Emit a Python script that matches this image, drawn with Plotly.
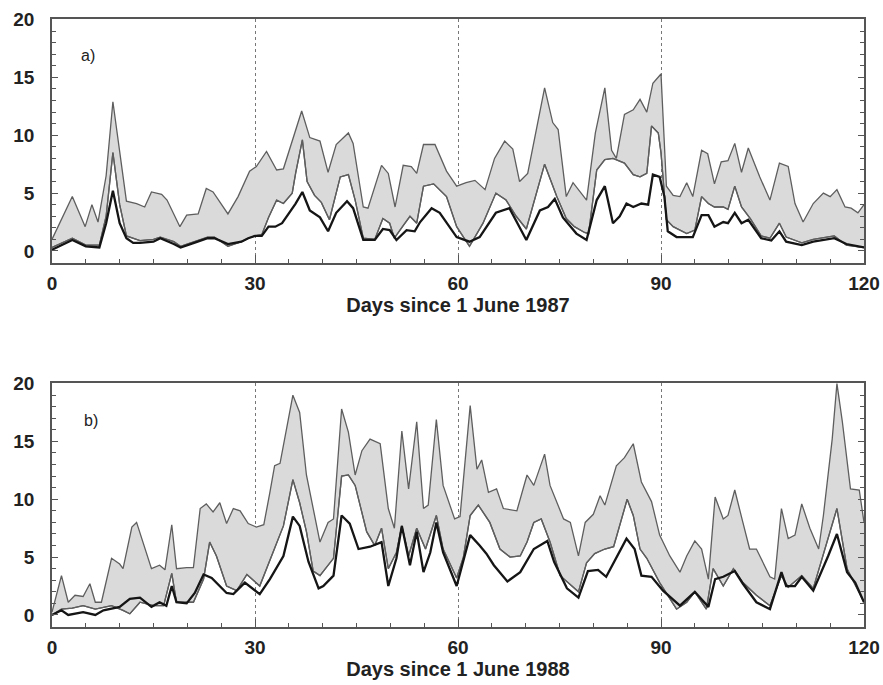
import plotly.graph_objects as go

# ---------------- Panel a (1987) ----------------
a_upper_day = [0, 3, 4.9, 5.9, 6.8, 8, 9, 11, 12.5, 13.7, 14.7, 16.2, 17, 18.9, 19.9, 21.6, 22.8, 23.8, 26, 27.5,
               29.2, 30.2, 31.7, 33.2, 34.2, 36.9, 38.1, 39.6, 40.8, 42, 43.8, 44.5, 46, 46.7, 48.7, 49.7, 50.7,
               51.9, 53.1, 53.9, 54.9, 56.6, 58.3, 59.8, 61.2, 62.5, 64, 65.4, 66.9, 68.1, 69.1, 70.3, 72.8, 74,
               74.8, 76, 77, 78, 79, 80.3, 81.7, 82.7, 83.4, 84.6, 85.9, 86.9, 87.9, 88.8, 90, 90.8, 91.8, 92.8,
               93.8, 94.7, 96, 96.9, 97.9, 98.9, 99.9, 100.9, 101.9, 102.9, 104.6, 106.1, 107.5, 108.8, 109.8,
               111, 112.5, 114, 115, 116, 117.2, 118.1, 119.1, 120]
a_upper_val = [1.0, 4.7, 2.1, 4.0, 2.5, 6.5, 12.9, 4.3, 4.1, 3.8, 5.1, 4.9, 4.4, 2.1, 3.1, 3.2, 5.4, 5.1, 3.2, 4.7,
               6.9, 7.3, 8.6, 7.0, 7.1, 12.1, 9.8, 9.5, 6.8, 9.2, 10.2, 9.3, 3.8, 3.7, 7.4, 6.7, 3.8,
               7.4, 7.3, 6.7, 9.2, 9.2, 6.9, 5.6, 5.9, 6.1, 5.3, 8.0, 9.5, 8.8, 6.0, 6.7, 14.1, 11.1,
               10.5, 4.7, 5.9, 5.2, 4.4, 10.2, 14.1, 8.7, 8.0, 11.8, 12.2, 13.1, 12.0, 14.5, 15.3, 5.6, 4.8, 4.7,
               5.9, 4.7, 8.7, 8.4, 5.8, 7.7, 7.8, 9.3, 6.8, 8.9, 6.4, 4.4, 7.6, 7.3, 4.1,
               2.5, 4.1, 5.0, 4.7, 5.3, 3.8, 3.7, 3.3, 4.0]

a_lower_day = [0, 3, 5, 7, 8, 9, 10, 11, 13, 15, 16, 18, 19, 21, 23, 24, 26, 28, 29, 30, 31, 32, 33.2, 34.2,
               35.5, 36, 37, 37.7, 38.8, 39.8, 41, 42.6, 43.8, 44.8, 46, 47.7, 48.9, 49.9, 50.6, 51.9, 52.9,
               53.9, 54.9, 56.4, 58.3, 59.8, 61.7, 63.7, 65.6, 67.1, 68.6, 70.1, 72.8, 74.6, 76, 77.2, 78.7,
               79.3, 80.5, 81.7, 82.9, 84.6, 85.9, 86.9, 87.9, 88.6, 89.6, 90, 90.8, 91.8, 93.8, 95, 96, 97,
               97.9, 99.2, 99.9, 100.9, 101.9, 103.2, 104.8, 106.1, 107.5, 108.5, 110.8, 112.5, 115.6, 117.4,
               119.8, 120]
a_lower_val = [0.3, 1.1, 0.5, 0.5, 3.0, 8.5, 4.0, 1.3, 0.9, 1.0, 1.2, 0.8, 0.4, 0.8, 1.2, 1.2, 0.4, 0.8, 1.1, 1.3,
               1.4, 2.9, 4.4, 4.1, 5.0, 6.7, 9.6, 6.0, 4.8, 4.2, 2.7, 6.4, 6.6, 4.4, 1.1, 1.0, 2.8, 2.4, 1.1,
               2.2, 3.0, 2.4, 5.6, 5.8, 4.7, 2.1, 0.4, 2.4, 5.0, 4.4, 3.0, 1.9, 7.5, 4.7, 2.8, 2.1, 1.6,
               1.5, 7.0, 7.9, 8.0, 7.6, 6.6, 6.4, 6.7, 10.8, 10.2, 8.5, 2.7, 2.1, 1.5, 1.8, 4.7, 4.1,
               3.8, 3.8, 3.6, 5.6, 3.8, 2.8, 1.3, 1.1, 2.4, 1.2, 0.7, 1.0, 1.3, 0.5,
               0.3, 0.3]

a_black_day = [0, 3, 5, 7, 8, 9, 10, 11, 12, 13, 15, 16, 18, 19, 21, 23, 24, 26, 28, 29, 30, 31, 32, 33, 34, 36,
               37, 38.1, 39.6, 40.8, 42, 43.6, 44.5, 46, 47.7, 48.9, 49.9, 50.9, 52.4, 53.6, 54.4, 56.1, 57.3,
               59.8, 61.7, 63.2, 65.6, 67.6, 70.1, 72.1, 73.3, 74.3, 75.5, 77.5, 79, 80.5, 81.7, 82.9, 83.9,
               84.9, 85.9, 87.1, 88.1, 88.8, 89.8, 90.5, 91, 92.3, 94.7, 96, 97, 97.9, 99.2, 99.9, 100.9, 101.9,
               102.9, 104.8, 106.3, 107.5, 108.5, 110.8, 112.5, 115.6, 117.4, 120]
a_black_val = [0.1, 0.95, 0.4, 0.3, 2.4, 5.2, 2.4, 1.1, 0.7, 0.7, 0.8, 1.1, 0.6, 0.3, 0.7, 1.1, 1.1, 0.6, 0.8, 1.1,
               1.3, 1.3, 2.1, 2.1, 2.4, 4.1, 5.1, 3.5, 2.9, 1.7, 3.3, 4.3, 3.7, 0.95, 0.95, 1.9, 1.8, 0.95, 1.8,
               1.7, 2.5, 3.7, 3.3, 1.2, 0.8, 1.2, 3.3, 3.7, 0.95, 3.5, 3.8, 4.5, 2.9, 1.5, 0.95, 4.4, 5.6, 2.4,
               3.0, 4.1, 3.8, 4.1, 4.0, 6.6, 6.4, 4.7, 1.7, 1.2, 1.2, 3.1, 3.1, 2.1, 2.5, 2.4, 3.3, 2.4,
               2.7, 1.1, 0.9, 1.7, 0.8, 0.5, 0.8, 1.1, 0.6, 0.3]

# ---------------- Panel b (1988) ----------------
b_upper_day = [0, 1.4, 2.4, 3.4, 4.6, 5.6, 6.4, 7.3, 8.8, 10, 10.5, 11.8, 12.5, 14.7, 15.9, 16.7, 17.7, 18.4,
               19.9, 20.9, 21.9, 22.8, 23.8, 24.8, 25.8, 26.8, 27.8, 29, 30.2, 31.3, 32.2, 32.9, 33.7, 35.6,
               36.6, 37.6, 39.6, 40.8, 41.6, 42.8, 43.8, 44.8, 45.8, 47, 48.5, 49.7, 50.6, 51.7, 52.7, 53.9,
               54.9, 55.6, 56.8, 57.8, 59.5, 60.3, 61.8, 62.8, 63.5, 64.5, 65.7, 66.7, 68.7, 70.2, 71.2, 72.8,
               73.6, 75.6, 76.6, 77.8, 78.8, 80, 81, 81.7, 83.4, 84.6, 85.9, 87.1, 88.6, 89.8, 91.3, 92.8,
               93.8, 95, 96, 97, 98, 99.2, 99.9, 100.9, 102.1, 103.1, 104.1, 106.1, 106.8, 107.8, 108.8,
               109.8, 110.8, 112, 113.3, 114, 115.3, 116, 116.8, 118, 119.3, 120]
b_upper_val = [0.25, 3.4, 1.1, 1.7, 1.6, 2.7, 1.1, 1.1, 4.9, 4.4, 4.0, 7.6, 8.0, 4.0, 4.3, 3.9, 7.8, 4.0,
               4.1, 4.1, 9.2, 9.6, 8.9, 9.7, 7.9, 9.2, 9.0, 7.9, 7.6, 7.8, 10.6, 12.9, 13.1, 19.0,
               17.5, 12.1, 6.3, 8.0, 8.3, 17.8, 15.8, 12.1, 14.2, 15.2, 14.8, 9.2, 7.5, 15.9, 10.9, 16.7,
               9.2, 9.5, 16.9, 11.2, 8.3, 8.5, 18.1, 12.6, 13.4, 10.6, 10.9, 9.2, 9.0, 12.1, 11.2, 13.9,
               11.2, 8.3, 8.0, 5.1, 8.0, 8.7, 10.3, 9.5, 12.9, 13.6, 14.8, 11.5, 9.8, 6.9, 5.1, 3.7,
               5.1, 6.4, 5.7, 3.1, 10.2, 8.3, 8.6, 10.8, 8.0, 5.7, 5.7, 3.3, 3.1, 9.2, 6.6,
               6.9, 9.6, 7.5, 5.7, 8.6, 15.2, 20.0, 16.7, 10.9, 10.8, 8.0]

b_lower_day = [0, 1.4, 3, 4.6, 6.4, 8.8, 10.5, 11.5, 13, 15, 16.5, 17.7, 18.4, 20.9, 22.4, 23.3, 24.3, 25.8,
               27.3, 28.8, 30.7, 32.2, 34.2, 35.6, 36.6, 37.6, 38.6, 39.6, 41.6, 42.8, 43.8, 44.8, 46.5, 47.7,
               48.7, 49.7, 50.9, 51.7, 52.7, 53.9, 55.2, 56.8, 57.8, 59.8, 60.8, 61.8, 63, 64.7, 66.2, 67.7,
               69.2, 70.2, 71.2, 72.3, 73.6, 75.1, 76.6, 77.8, 79, 80.2, 81.7, 83, 85, 85.9, 86.9, 87.9,
               89.8, 92.3, 93.8, 95, 96.7, 97.7, 99.2, 100.7, 102.1, 104.1, 106.1, 107.8, 108.8, 110.8,
               112.5, 114.5, 116, 117.5, 120]
b_lower_val = [0.0, 0.5, 0.6, 0.8, 0.5, 0.8, 0.4, 0.1, 1.1, 0.8, 0.8, 3.6, 1.1, 1.1, 3.1, 6.3, 5.1, 2.5,
               2.1, 3.5, 2.5, 4.8, 7.7, 11.7, 9.7, 7.2, 3.8, 3.4, 4.9, 12.0, 12.1, 11.2, 7.2, 6.0,
               7.5, 4.0, 5.4, 7.7, 5.1, 7.5, 5.7, 8.6, 5.7, 3.2, 5.0, 8.6, 9.5, 8.0, 5.7, 5.0,
               5.1, 6.3, 8.0, 8.3, 6.3, 3.4, 2.6, 2.0, 4.5, 5.3, 5.7, 5.9, 10.0, 8.6, 5.7, 4.9,
               2.8, 0.5, 1.1, 2.0, 0.5, 4.0, 2.5, 4.0, 2.8, 1.7, 0.8, 3.4, 2.4, 3.4,
               2.3, 6.3, 9.2, 4.0, 1.1]

b_black_day = [0, 1.4, 2.4, 4.6, 6.4, 7.6, 10, 11.5, 13, 14.7, 15.9, 16.9, 17.7, 18.4, 19.9, 21.1, 22.4, 23.6,
               25.8, 26.8, 28.5, 30.7, 32.2, 34.2, 35.6, 36.6, 37.9, 39.4, 40.1, 41.6, 42.8, 44, 45.3, 47,
               48.7, 49.7, 50.9, 51.7, 52.9, 53.9, 54.9, 55.9, 56.8, 57.8, 59.8, 61.8, 63.2, 64.2, 65.3, 66.3,
               67.3, 69.2, 71.2, 73.2, 74.2, 76.1, 77.8, 79.2, 80.7, 81.9, 84.9, 86.1, 87.1, 88.6, 90.3,
               92.8, 95, 97, 98, 99.2, 100.9, 102.1, 104.1, 106.1, 107.8, 108.5, 109.8, 110.8, 112.5, 114.7,
               116, 117.5, 118.7, 120]
b_black_val = [0.0, 0.4, 0.0, 0.25, 0.0, 0.4, 0.7, 1.4, 1.5, 0.7, 1.1, 0.8, 2.5, 1.1, 1.0, 1.9, 3.5, 3.2,
               1.9, 1.8, 2.8, 1.8, 3.1, 5.1, 8.5, 7.7, 4.6, 2.3, 2.5, 3.4, 8.6, 7.9, 5.7, 5.9,
               6.3, 2.5, 4.9, 7.7, 4.3, 7.2, 3.7, 5.4, 8.0, 5.4, 2.5, 6.9, 6.0, 5.3, 4.3, 3.6,
               2.9, 3.7, 5.7, 6.4, 4.6, 2.3, 1.5, 3.8, 3.9, 3.3, 6.6, 5.7, 3.4, 3.3, 2.1,
               0.8, 2.0, 0.7, 3.1, 3.3, 3.8, 2.7, 1.1, 0.5, 3.7, 2.5, 2.5, 3.3, 2.1, 5.1,
               7.0, 3.7, 2.8, 1.1]

x_ticks = [0, 30, 60, 90, 120]
y_ticks = [0, 5, 10, 15, 20]
x_titles = ["Days since 1 June 1987", "Days since 1 June 1988"]
panel_labels = ["a)", "b)"]

GREY_LINE = "#5e5e5e"
FILL = "#dadada"
BLACK = "#151515"
FRAME = "#555555"
FONT = "Liberation Sans, Arial, sans-serif"

fig = go.Figure()

panels = [
    (a_upper_day, a_upper_val, a_lower_day, a_lower_val, a_black_day, a_black_val, "x", "y"),
    (b_upper_day, b_upper_val, b_lower_day, b_lower_val, b_black_day, b_black_val, "x2", "y2"),
]
for (ud, uv, ld, lv, bd, bv, xa, ya) in panels:
    fig.add_trace(go.Scatter(x=ld, y=lv, mode="lines", line=dict(color=GREY_LINE, width=1.3),
                             xaxis=xa, yaxis=ya, showlegend=False, hoverinfo="skip"))
    fig.add_trace(go.Scatter(x=ud, y=uv, mode="lines", line=dict(color=GREY_LINE, width=1.3),
                             fill="tonexty", fillcolor=FILL,
                             xaxis=xa, yaxis=ya, showlegend=False, hoverinfo="skip"))
    fig.add_trace(go.Scatter(x=ld, y=lv, mode="lines", line=dict(color=GREY_LINE, width=1.3),
                             xaxis=xa, yaxis=ya, showlegend=False, hoverinfo="skip"))
    fig.add_trace(go.Scatter(x=bd, y=bv, mode="lines", line=dict(color=BLACK, width=2.3),
                             xaxis=xa, yaxis=ya, showlegend=False, hoverinfo="skip"))

tickfont = dict(family=FONT, size=19, color="#222", weight="bold")
titlefont = dict(family=FONT, size=20, color="#222", weight="bold")

def xaxis_cfg(title, anchor):
    return dict(
        range=[0, 120], tickvals=x_ticks, ticktext=[str(v) for v in x_ticks],
        ticks="inside", ticklen=8, tickwidth=1, tickcolor=FRAME,
        minor=dict(dtick=5, tick0=0, ticks="inside", ticklen=4, tickcolor=FRAME, showgrid=False),
        showline=True, linecolor=FRAME, linewidth=1.5, mirror=True,
        showgrid=True, gridcolor="#777", griddash="dot", gridwidth=1,
        zeroline=False, tickfont=tickfont, ticklabelstandoff=2, ticklabeloverflow="allow",
        title=dict(text=title, font=titlefont, standoff=5),
        anchor=anchor, automargin=False,
    )

def yaxis_cfg(domain, anchor):
    return dict(
        range=[-1.04, 20.05], domain=domain, tickvals=y_ticks, ticktext=[str(v) for v in y_ticks],
        ticks="inside", ticklen=6, tickwidth=1, tickcolor=FRAME,
        minor=dict(dtick=1, tick0=0, ticks="inside", ticklen=4, tickcolor=FRAME, showgrid=False),
        showline=True, linecolor=FRAME, linewidth=1.5, mirror="allticks",
        showgrid=False, zeroline=False, tickfont=tickfont, ticklabelstandoff=12,
        anchor=anchor, automargin=False,
    )

# plot areas span page x 52..864, y 19..263 and 383..627
fig.update_layout(
    width=883, height=685,
    margin=dict(l=52, r=19, t=19, b=58, autoexpand=False),
    paper_bgcolor="white", plot_bgcolor="white",
    xaxis=xaxis_cfg(x_titles[0], "y"),
    yaxis=yaxis_cfg([0.5987, 1.0], "x"),
    xaxis2=xaxis_cfg(x_titles[1], "y2"),
    yaxis2=yaxis_cfg([0.0, 0.4013], "x2"),
    showlegend=False,
)

fig.add_annotation(text=panel_labels[0], x=5.3, y=16.9, xref="x", yref="y", showarrow=False,
                   font=dict(family=FONT, size=16, color="#222"),
                   xanchor="center", yanchor="middle")
fig.add_annotation(text=panel_labels[1], x=5.8, y=16.8, xref="x2", yref="y2", showarrow=False,
                   font=dict(family=FONT, size=16, color="#222"),
                   xanchor="center", yanchor="middle")

# remove the default page margin so the figure sits flush in the 883x685 window
fig.write_html("out.html",
               config={"displayModeBar": False},
               post_script="document.body.style.margin='0';document.body.style.overflow='hidden';")
